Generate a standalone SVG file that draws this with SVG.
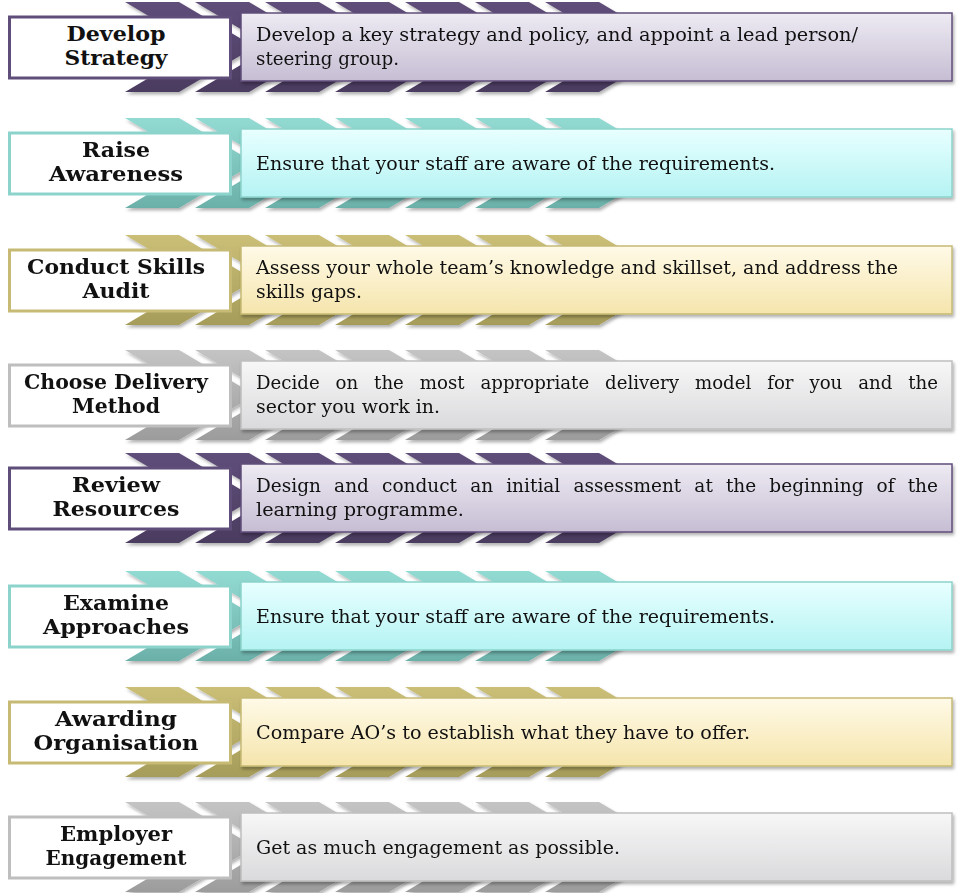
<svg xmlns="http://www.w3.org/2000/svg" xmlns:xlink="http://www.w3.org/1999/xlink" width="957" height="893" viewBox="0 0 957 893">
<style>
.lbl{fill:#fff;stroke-width:3}
.dsc{stroke-width:1.5}
.lt{font-family:"DejaVu Serif","Liberation Serif",serif;font-weight:bold;font-size:21px;fill:#111;text-anchor:middle}
.dt{font-family:"DejaVu Serif","Liberation Serif",serif;font-size:18px;fill:#111}
.p{stroke:#5F4E7A}.t{stroke:#8CD3CB}.o{stroke:#C6BA74}.g{stroke:#BEBEBE}
</style>
<defs>
<filter id="sh" x="-5%" y="-20%" width="115%" height="160%"><feDropShadow dx="1.5" dy="2.5" stdDeviation="1.5" flood-color="#000" flood-opacity="0.3"/></filter>
<linearGradient id="cp" x1="0" y1="0" x2="0" y2="1"><stop offset="0" stop-color="#5F4E7A"/><stop offset="1" stop-color="#4B3C60"/></linearGradient>
<linearGradient id="ct" x1="0" y1="0" x2="0" y2="1"><stop offset="0" stop-color="#92DBD3"/><stop offset="1" stop-color="#6BB0A9"/></linearGradient>
<linearGradient id="co" x1="0" y1="0" x2="0" y2="1"><stop offset="0" stop-color="#CBBF77"/><stop offset="1" stop-color="#A69C5A"/></linearGradient>
<linearGradient id="cg" x1="0" y1="0" x2="0" y2="1"><stop offset="0" stop-color="#C4C4C4"/><stop offset="1" stop-color="#9C9C9C"/></linearGradient>
<linearGradient id="dp" x1="0" y1="0" x2="0" y2="1"><stop offset="0" stop-color="#EEEBF3"/><stop offset="1" stop-color="#C6BDD3"/></linearGradient>
<linearGradient id="dtl" x1="0" y1="0" x2="0" y2="1"><stop offset="0" stop-color="#E8FFFF"/><stop offset="1" stop-color="#B5F3F3"/></linearGradient>
<linearGradient id="do" x1="0" y1="0" x2="0" y2="1"><stop offset="0" stop-color="#FFFAE8"/><stop offset="1" stop-color="#F5E5AC"/></linearGradient>
<linearGradient id="dg" x1="0" y1="0" x2="0" y2="1"><stop offset="0" stop-color="#F7F7F8"/><stop offset="1" stop-color="#DADADC"/></linearGradient>
<path id="strip" d="M125,0h54l76,45l-76,45h-54l76,-45z M195,0h54l76,45l-76,45h-54l76,-45z M265,0h54l76,45l-76,45h-54l76,-45z M335,0h54l76,45l-76,45h-54l76,-45z M405,0h54l76,45l-76,45h-54l76,-45z M475,0h54l76,45l-76,45h-54l76,-45z M545,0h54l76,45l-76,45h-54l76,-45z"/>
</defs>
<g id="connectors" filter="url(#sh)">
<use xlink:href="#strip" y="2" fill="url(#cp)"/>
<use xlink:href="#strip" y="118" fill="url(#ct)"/>
<use xlink:href="#strip" y="235" fill="url(#co)"/>
<use xlink:href="#strip" y="350" fill="url(#cg)"/>
<use xlink:href="#strip" y="453" fill="url(#cp)"/>
<use xlink:href="#strip" y="571" fill="url(#ct)"/>
<use xlink:href="#strip" y="687" fill="url(#co)"/>
<use xlink:href="#strip" y="802" fill="url(#cg)"/>
</g>
<g id="row1">
<rect class="lbl p" x="9.5" y="17" width="221" height="61"/>
<text class="lt" x="116" y="41" textLength="99" lengthAdjust="spacingAndGlyphs">Develop</text>
<text class="lt" x="116" y="65" textLength="103" lengthAdjust="spacingAndGlyphs">Strategy</text>
<rect class="dsc p" x="241" y="13" width="711" height="68" fill="url(#dp)" filter="url(#sh)"/>
<text class="dt" x="256" y="41" textLength="602" lengthAdjust="spacingAndGlyphs">Develop a key strategy and policy, and appoint a lead person/</text>
<text class="dt" x="256" y="65" textLength="143" lengthAdjust="spacingAndGlyphs">steering group.</text>
</g>
<g id="row2">
<rect class="lbl t" x="9.5" y="133" width="221" height="61"/>
<text class="lt" x="116" y="157" textLength="68" lengthAdjust="spacingAndGlyphs">Raise</text>
<text class="lt" x="116" y="181" textLength="134" lengthAdjust="spacingAndGlyphs">Awareness</text>
<rect class="dsc t" x="241" y="129" width="711" height="68" fill="url(#dtl)" filter="url(#sh)"/>
<text class="dt" x="256" y="170" textLength="519" lengthAdjust="spacingAndGlyphs">Ensure that your staff are aware of the requirements.</text>
</g>
<g id="row3">
<rect class="lbl o" x="9.5" y="250" width="221" height="61"/>
<text class="lt" x="116" y="274" textLength="178" lengthAdjust="spacingAndGlyphs">Conduct Skills</text>
<text class="lt" x="116" y="298" textLength="67" lengthAdjust="spacingAndGlyphs">Audit</text>
<rect class="dsc o" x="241" y="246" width="711" height="68" fill="url(#do)" filter="url(#sh)"/>
<text class="dt" x="256" y="274" textLength="642" lengthAdjust="spacingAndGlyphs">Assess your whole team’s knowledge and skillset, and address the</text>
<text class="dt" x="256" y="298" textLength="106" lengthAdjust="spacingAndGlyphs">skills gaps.</text>
</g>
<g id="row4">
<rect class="lbl g" x="9.5" y="365" width="221" height="61"/>
<text class="lt" x="116" y="389" textLength="184" lengthAdjust="spacingAndGlyphs">Choose Delivery</text>
<text class="lt" x="116" y="413" textLength="88" lengthAdjust="spacingAndGlyphs">Method</text>
<rect class="dsc g" x="241" y="361" width="711" height="68" fill="url(#dg)" filter="url(#sh)"/>
<text class="dt" x="256" y="389" word-spacing="10" textLength="682" lengthAdjust="spacingAndGlyphs">Decide on the most appropriate delivery model for you and the</text>
<text class="dt" x="256" y="413" textLength="184" lengthAdjust="spacingAndGlyphs">sector you work in.</text>
</g>
<g id="row5">
<rect class="lbl p" x="9.5" y="468" width="221" height="61"/>
<text class="lt" x="116" y="492" textLength="88" lengthAdjust="spacingAndGlyphs">Review</text>
<text class="lt" x="116" y="516" textLength="127" lengthAdjust="spacingAndGlyphs">Resources</text>
<rect class="dsc p" x="241" y="464" width="711" height="68" fill="url(#dp)" filter="url(#sh)"/>
<text class="dt" x="256" y="492" word-spacing="7" textLength="682" lengthAdjust="spacingAndGlyphs">Design and conduct an initial assessment at the beginning of the</text>
<text class="dt" x="256" y="516" textLength="208" lengthAdjust="spacingAndGlyphs">learning programme.</text>
</g>
<g id="row6">
<rect class="lbl t" x="9.5" y="586" width="221" height="61"/>
<text class="lt" x="116" y="610" textLength="106" lengthAdjust="spacingAndGlyphs">Examine</text>
<text class="lt" x="116" y="634" textLength="146" lengthAdjust="spacingAndGlyphs">Approaches</text>
<rect class="dsc t" x="241" y="582" width="711" height="68" fill="url(#dtl)" filter="url(#sh)"/>
<text class="dt" x="256" y="623" textLength="519" lengthAdjust="spacingAndGlyphs">Ensure that your staff are aware of the requirements.</text>
</g>
<g id="row7">
<rect class="lbl o" x="9.5" y="702" width="221" height="61"/>
<text class="lt" x="116" y="726" textLength="122" lengthAdjust="spacingAndGlyphs">Awarding</text>
<text class="lt" x="116" y="750" textLength="165" lengthAdjust="spacingAndGlyphs">Organisation</text>
<rect class="dsc o" x="241" y="698" width="711" height="68" fill="url(#do)" filter="url(#sh)"/>
<text class="dt" x="256" y="739" textLength="494" lengthAdjust="spacingAndGlyphs">Compare AO’s to establish what they have to offer.</text>
</g>
<g id="row8">
<rect class="lbl g" x="9.5" y="817" width="221" height="61"/>
<text class="lt" x="116" y="841" textLength="112" lengthAdjust="spacingAndGlyphs">Employer</text>
<text class="lt" x="116" y="865" textLength="141" lengthAdjust="spacingAndGlyphs">Engagement</text>
<rect class="dsc g" x="241" y="813" width="711" height="68" fill="url(#dg)" filter="url(#sh)"/>
<text class="dt" x="256" y="854" textLength="364" lengthAdjust="spacingAndGlyphs">Get as much engagement as possible.</text>
</g>
</svg>
